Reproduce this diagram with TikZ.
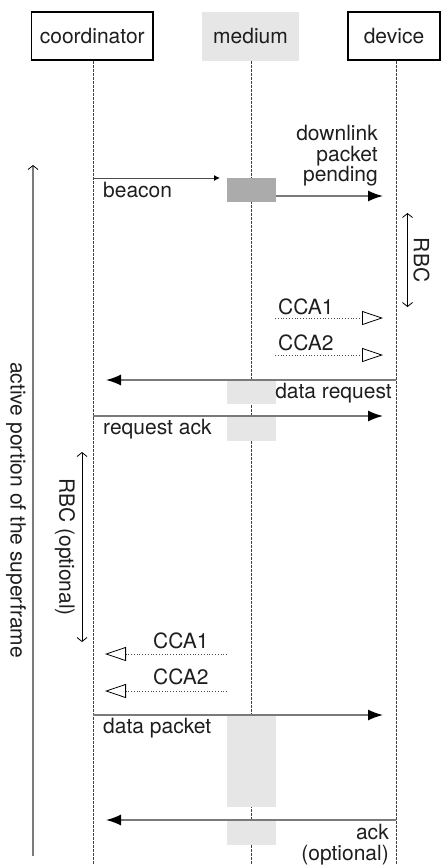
\documentclass[tikz,border=0pt]{standalone}
\usepackage{fontspec}
\setmainfont{TeX Gyre Heros}
\usetikzlibrary{arrows.meta}
\definecolor{medfill}{HTML}{E6E6E7}
\definecolor{busyfill}{HTML}{ABABAC}
\definecolor{msgline}{HTML}{7A7A7A}
\definecolor{txt}{HTML}{1E1E1E}
\begin{document}
\begin{tikzpicture}[x=1pt,y=-1pt,
  font=\fontsize{21}{20.5}\selectfont,
  every node/.style={text=txt},
  actor/.style={draw=black, line width=1.5pt, minimum height=48pt, inner sep=0pt},
  medbox/.style={fill=medfill, minimum height=49pt, minimum width=97pt, inner sep=0pt},
  life/.style={draw=black!75, line width=0.7pt, dash pattern=on 2.5pt off 1.5pt},
  slot/.style={minimum width=49pt, inner sep=0pt, anchor=north},
  busyslot/.style={slot, fill=busyfill},
  freeslot/.style={slot, fill=medfill},
  msg/.style={draw=msgline, line width=1.5pt, -{Latex[length=15pt,width=11pt,color=black]}},
  beaconmsg/.style={draw=black!70, line width=1pt, -{Latex[length=6pt,width=6pt,color=black]}},
  cca/.style={draw=black!70, line width=0.8pt, dotted, -{Triangle[open,length=21pt,width=14pt,color=black,line width=0.8pt]}},
  span/.style={draw=black, line width=0.8pt, {Straight Barb[length=4pt,width=10pt]}-{Straight Barb[length=4pt,width=10pt]}},
  label/.style={inner sep=0pt},
]
\useasboundingbox (0,0) rectangle (441,865);

% participants
\node[actor, minimum width=121.5pt] (coord) at (92.25,36) {coordinator};
\node[medbox] (med) at (250.5,36.5) {medium};
\node[actor, minimum width=92pt] (dev) at (394,36) {device};

% lifelines
\coordinate (cTop) at (93,61);  \coordinate (cBot) at (93,865);
\coordinate (mTop) at (251,61); \coordinate (mBot) at (251,865);
\coordinate (dTop) at (396,61); \coordinate (dBot) at (396,865);
\draw[life] (cTop) -- (cBot);
\draw[life] (mTop) -- (mBot);
\draw[life] (dTop) -- (dBot);

% medium occupation
\node[busyslot, minimum height=24pt] (slotBeacon) at (251.5,178) {};
\node[freeslot, minimum height=24pt] (slotReq) at (251.5,380) {};
\node[freeslot, minimum height=25pt] (slotReqAck) at (251.5,416) {};
\node[freeslot, minimum height=92pt] (slotData) at (251.5,715) {};
\node[freeslot, minimum height=24.5pt] (slotAck) at (251.5,820) {};

% beacon
\coordinate (bcA) at (93,178); \coordinate (bcB) at (220,178);
\draw[beaconmsg] (bcA) -- (bcB);
\node[label, anchor=base west] (tBeacon) at (103,197) {beacon};
\coordinate (pdA) at (276,196); \coordinate (pdB) at (383,196);
\draw[msg] (pdA) -- (pdB);
\node[label, anchor=north east, align=right] (tPending) at (378,125) {downlink\\packet\\pending};

% device backoff
\coordinate (rbA) at (407.5,213); \coordinate (rbB) at (407.5,307);
\draw[span] (rbA) -- (rbB);
\node[label, rotate=-90] (tRBC) at (421.5,260) {RBC};

\coordinate (c1A) at (275,318); \coordinate (c1B) at (383,318);
\draw[cca] (c1A) -- (c1B);
\node[label, anchor=base west] (tC1) at (278,314) {CCA1};
\coordinate (c2A) at (275,355); \coordinate (c2B) at (383,355);
\draw[cca] (c2A) -- (c2B);
\node[label, anchor=base west] (tC2) at (278,350) {CCA2};

% data request and acknowledgement
\coordinate (drA) at (396,380); \coordinate (drB) at (106,380);
\draw[msg] (drA) -- (drB);
\node[label, anchor=base east] (tReq) at (392,398) {data request};
\coordinate (raA) at (93,416); \coordinate (raB) at (383,416);
\draw[msg] (raA) -- (raB);
\node[label, anchor=base west] (tReqAck) at (103,434) {request ack};

% coordinator backoff
\coordinate (roA) at (82,452); \coordinate (roB) at (82,642);
\draw[span] (roA) -- (roB);
\node[label, rotate=-90] (tRBCopt) at (65,547) {RBC (optional)};

\coordinate (l1A) at (227,654); \coordinate (l1B) at (105,654);
\draw[cca] (l1A) -- (l1B);
\node[label, anchor=base west] (tL1) at (153,648) {CCA1};
\coordinate (l2A) at (227,691); \coordinate (l2B) at (105,691);
\draw[cca] (l2A) -- (l2B);
\node[label, anchor=base west] (tL2) at (153,684) {CCA2};

% data packet and ack
\coordinate (dpA) at (93,715); \coordinate (dpB) at (383,715);
\draw[msg] (dpA) -- (dpB);
\node[label, anchor=base west] (tData) at (103,733) {data packet};
\coordinate (akA) at (396,820); \coordinate (akB) at (106,820);
\draw[msg] (akA) -- (akB);
\node[label, anchor=north east, align=right] (tAck) at (389,824) {ack\\(optional)};

% superframe extent
\coordinate (spA) at (33,856); \coordinate (spB) at (33,165);
\draw[draw=msgline, line width=2pt, -{Straight Barb[length=4pt,width=10pt,color=black,line width=0.8pt]}] (spA) -- (spB);
\node[label, rotate=-90] (tActive) at (16,510) {active portion of the superframe};
\end{tikzpicture}
\end{document}
